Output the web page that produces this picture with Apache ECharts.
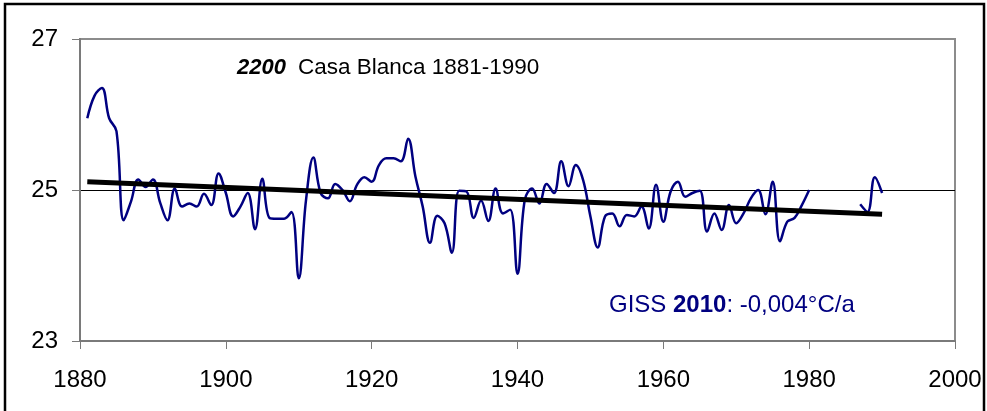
<!DOCTYPE html>
<html>
<head>
<meta charset="utf-8">
<script src="https://cdn.jsdelivr.net/npm/echarts@6/dist/echarts.min.js"></script>
<style>
html,body{margin:0;padding:0;background:#fff;}
#c{width:987px;height:411px;}
</style>
</head>
<body>
<div id="c"></div>
<script>
const startYear = 1881;
const temps = [
  25.95, 26.25, 26.35, 25.95, 25.78, 24.60, 24.85, 25.14, 25.04, 25.14,
  24.83, 24.60, 25.02, 24.78, 24.82, 24.78, 24.95, 24.80, 25.22, 24.96,
  24.65, 24.78, 24.96, 24.48, 25.15, 24.63, 24.62, 24.62, 24.71, 23.83,
  24.87, 25.43, 24.96, 24.89, 25.08, 25.00, 24.85, 25.07, 25.17, 25.11,
  25.33, 25.42, 25.42, 25.38, 25.68, 25.18, 24.78, 24.30, 24.66, 24.56,
  24.17, 24.99, 24.98, 24.63, 24.86, 24.59, 25.02, 24.69, 24.74, 23.89,
  24.87, 25.02, 24.82, 25.08, 24.96, 25.38, 25.05, 25.33, 25.13, 24.65,
  24.24, 24.65, 24.69, 24.52, 24.67, 24.65, 24.78, 24.49, 25.07, 24.58,
  24.98, 25.11, 24.91, 24.96, 24.99, 24.45, 24.69, 24.47, 24.80, 24.56,
  24.69, 24.89, 25.00, 24.68, 25.11, 24.32, 24.58, 24.63, 24.80, 25.00,
  null, null, null, null, null, null, 24.81, 24.71, 25.17, 24.96
];
const trendYears = [1881, 1990];
const trendValues = [25.11, 24.68];
const xTicks = [1880, 1900, 1920, 1940, 1960, 1980, 2000];
const yTicks = [23, 25, 27];
const titleBold = '2200';
const titleRest = 'Casa Blanca 1881-1990';
const noteText = ['GISS ', '2010', ': -0,004°C/a'];

const seriesData = temps.map((v, i) => [startYear + i, v]);
const trendData = trendYears.map((y, i) => [y, trendValues[i]]);

const chart = echarts.init(document.getElementById('c'), null, {renderer: 'canvas'});
const font = 'Liberation Sans, Arial, sans-serif';
chart.setOption({
  animation: false,
  backgroundColor: '#fff',
  grid: {left: 80, right: 32, top: 39, bottom: 70, show: true, borderColor: '#8c8c8c', borderWidth: 2, backgroundColor: 'transparent'},
  xAxis: {
    type: 'value', min: xTicks[0], max: xTicks[xTicks.length - 1], interval: 20,
    axisLine: {show: true, onZero: false, lineStyle: {color: '#7a7a7a', width: 2}},
    axisTick: {show: true, inside: false, length: 8, lineStyle: {color: '#7a7a7a', width: 1}},
    axisLabel: {color: '#000', fontFamily: font, fontSize: 24, margin: 27, formatter: v => String(v)},
    splitLine: {show: false}
  },
  yAxis: {
    type: 'value', min: yTicks[0], max: yTicks[yTicks.length - 1], interval: 2,
    axisLine: {show: true, onZero: false, lineStyle: {color: '#7a7a7a', width: 2}},
    axisTick: {show: true, inside: false, length: 8, lineStyle: {color: '#7a7a7a', width: 1}},
    axisLabel: {color: '#000', fontFamily: font, fontSize: 24, margin: 22},
    splitLine: {show: true, lineStyle: {color: ['rgba(0,0,0,0)', '#000', 'rgba(0,0,0,0)'], width: 1}}
  },
  series: [
    {
      type: 'line', data: seriesData, smooth: 0.4, connectNulls: false, showSymbol: false,
      lineStyle: {color: '#000080', width: 2.5}, z: 3
    },
    {
      type: 'line', data: trendData, smooth: false, showSymbol: false,
      lineStyle: {color: '#000', width: 5}, z: 4
    }
  ],
  graphic: [
    {type: 'rect', shape: {x: 5, y: 4, width: 979, height: 430}, style: {fill: 'none', stroke: '#000', lineWidth: 2.5}, silent: true},
    {type: 'text', left: 237, top: 56, style: {
      rich: {
        b: {fontFamily: font, fontSize: 22, fontWeight: 'bold', fontStyle: 'italic', fill: '#000', padding: [0, 12, 0, 0]},
        n: {fontFamily: font, fontSize: 22.5, fill: '#000'}
      },
      text: '{b|' + titleBold + '}{n|' + titleRest + '}'
    }},
    {type: 'text', left: 609, top: 293, style: {
      rich: {
        n: {fontFamily: font, fontSize: 24, fill: '#000080'},
        b: {fontFamily: font, fontSize: 24, fontWeight: 'bold', fill: '#000080'}
      },
      text: '{n|' + noteText[0] + '}{b|' + noteText[1] + '}{n|' + noteText[2] + '}'
    }}
  ]
});
</script>
</body>
</html>
